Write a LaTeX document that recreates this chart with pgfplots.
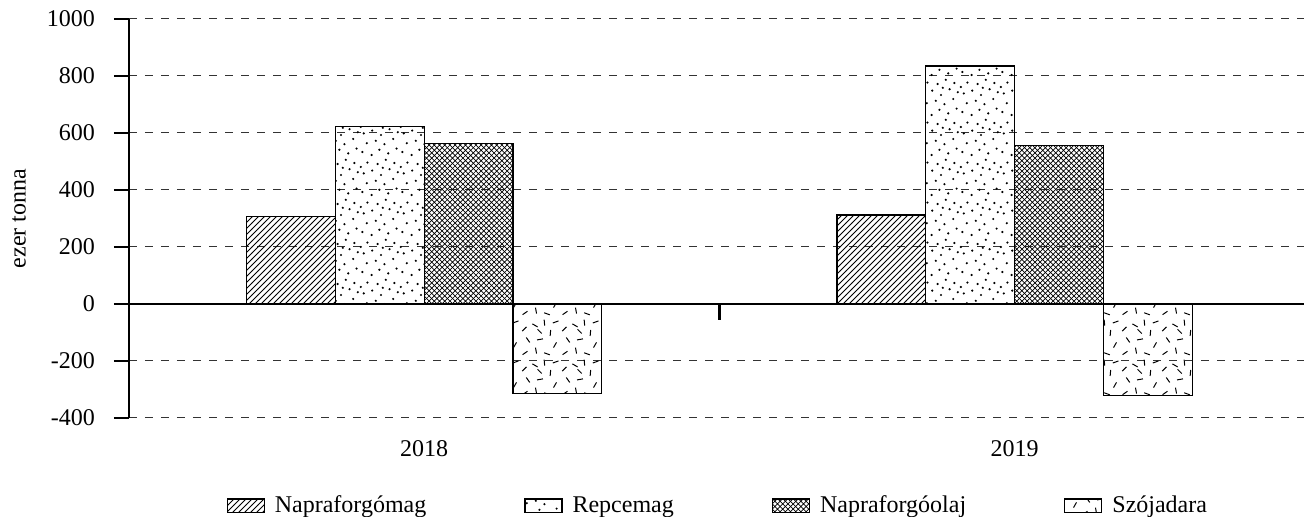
\documentclass[border=0pt]{standalone}
\usepackage{pgfplots}
\pgfplotsset{compat=1.18}
\usepackage{fontspec}
\setmainfont{Liberation Serif}
\usetikzlibrary{patterns}

% scattered dots (Repcemag)
\newcommand\rdot[2]{\pgfpathcircle{\pgfpoint{#1pt}{#2pt}}{0.6pt}}
\pgfdeclarepatternformonly{rdots}{\pgfqpoint{-1pt}{-1pt}}{\pgfqpoint{21pt}{21pt}}{\pgfqpoint{20pt}{20pt}}{%
  \rdot{1.2}{2.5}\rdot{5.8}{1.0}\rdot{9.7}{3.6}\rdot{14.1}{1.8}\rdot{18.3}{4.2}
  \rdot{3.4}{6.9}\rdot{7.9}{8.1}\rdot{12.2}{6.4}\rdot{16.6}{9.0}\rdot{1.9}{11.8}
  \rdot{6.1}{13.2}\rdot{10.5}{11.0}\rdot{14.8}{13.9}\rdot{18.9}{12.4}\rdot{3.7}{17.2}
  \rdot{8.8}{16.5}\rdot{12.9}{18.6}\rdot{17.2}{17.0}\rdot{0.4}{15.0}\rdot{11.4}{14.6}
  \pgfusepath{fill}}

% short strokes in all directions (Szójadara)
\newcommand\rdash[3]{%
  \pgfpathmoveto{\pgfpointadd{\pgfpoint{#1pt}{#2pt}}{\pgfpointpolar{#3}{1.5pt}}}%
  \pgfpathlineto{\pgfpointadd{\pgfpoint{#1pt}{#2pt}}{\pgfpointpolar{#3}{-1.5pt}}}}
\pgfdeclarepatternformonly{rdashes}{\pgfqpoint{-2pt}{-2pt}}{\pgfqpoint{22pt}{22pt}}{\pgfqpoint{20pt}{20pt}}{%
  \pgfsetlinewidth{0.5pt}
  \rdash{2.5}{2.0}{35}\rdash{8.0}{3.2}{100}\rdash{13.5}{1.6}{160}\rdash{17.5}{6.0}{60}
  \rdash{4.0}{8.5}{125}\rdash{10.0}{8.8}{10}\rdash{15.2}{12.0}{85}\rdash{2.2}{14.0}{45}
  \rdash{7.5}{15.8}{150}\rdash{12.2}{17.2}{95}\rdash{17.8}{17.5}{20}\rdash{9.8}{12.8}{135}
  \pgfusepath{stroke}}

% dense crosshatch (Napraforgóolaj)
\pgfdeclarepatternformonly{finecross}{\pgfqpoint{-1pt}{-1pt}}{\pgfqpoint{3.6pt}{3.6pt}}{\pgfqpoint{2.6pt}{2.6pt}}{%
  \pgfsetlinewidth{0.35pt}
  \pgfpathmoveto{\pgfqpoint{2.7pt}{0pt}}\pgfpathlineto{\pgfqpoint{0pt}{2.7pt}}
  \pgfpathmoveto{\pgfqpoint{0pt}{0pt}}\pgfpathlineto{\pgfqpoint{2.7pt}{2.7pt}}
  \pgfusepath{stroke}}

\pgfplotsset{
  myleg/.style={legend image code/.code={\draw[##1] (0pt,-3.4pt) rectangle (18.5pt,3.4pt);}},
  mybar/.style={draw=black, line width=0.6pt, pattern color=black, pattern=#1, myleg},
}

\begin{document}
\begin{tikzpicture}
\useasboundingbox (-64.5pt,-49.5pt) rectangle (587.5pt,209pt);
\begin{axis}[
  scale only axis, width=587.5pt, height=199.5pt,
  xmin=-0.5, xmax=1.49, ymin=-400, ymax=1000,
  ybar=0pt, bar width=44.4pt,
  axis lines*=left,
  x axis line style={draw=none},
  y axis line style={line width=1.3pt, black},
  xtick={0,1}, xticklabels={2018,2019},
  major x tick style={draw=none},
  ytick={-400,-200,0,200,400,600,800,1000},
  tick style={line width=1.3pt, black},
  every major tick/.append style={line width=1.3pt, black},
  tick align=outside, major tick length=7.5pt,
  ymajorgrids,
  grid style={black!80, line width=0.5pt, dash pattern=on 4pt off 4pt},
  yticklabel style={xshift=-6pt},
  /pgf/number format/assume math mode=true,
  /pgf/number format/1000 sep={},
  font=\fontsize{12}{14}\selectfont,
  ticklabel style={font=\fontsize{12}{14}\selectfont},
  ylabel={ezer tonna},
  ylabel style={at={(axis description cs:-0.0936,0.5)}, anchor=center},
  legend columns=4,
  legend cell align=left,
  legend style={at={(axis description cs:0.502,-0.22)}, anchor=center, draw=none,
    font=\fontsize{12}{14}\selectfont,
    /tikz/every odd column/.append style={column sep=3pt},
    /tikz/every even column/.append style={column sep=47pt}},
  clip=false,
]
% Napraforgómag
\addplot[mybar=north east lines] coordinates {(0,307) (1,312)};
% Repcemag
\addplot[mybar=rdots] coordinates {(0,622) (1,835)};
% Napraforgóolaj
\addplot[mybar=finecross] coordinates {(0,564) (1,556)};
% Szójadara
\addplot[mybar=rdashes] coordinates {(0,-313) (1,-320)};
\legend{Napraforgómag, Repcemag, Napraforgóolaj, Szójadara}

\draw[line width=1.3pt] (axis cs:-0.5,-400) -- (axis cs:-0.5,1000);
\draw[line width=1.3pt] (axis cs:-0.5,0) -- (axis cs:1.49,0);
\draw[line width=1.3pt] (axis cs:0.5,0) -- ([yshift=-8pt]axis cs:0.5,0);
\end{axis}
\end{tikzpicture}
\end{document}
